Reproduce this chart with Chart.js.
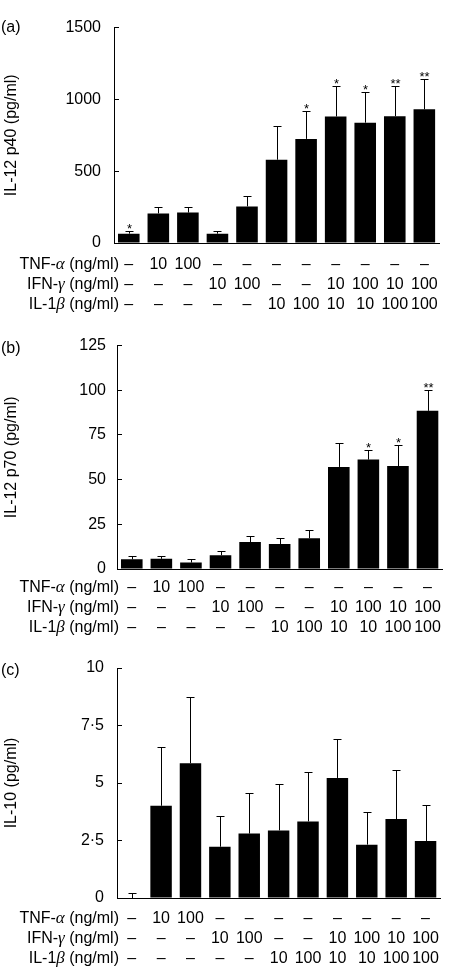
<!DOCTYPE html>
<html>
<head>
<meta charset="utf-8">
<title>IL-12 p40, IL-12 p70 and IL-10</title>
<script src="https://cdn.jsdelivr.net/npm/chart.js@4.4.0/dist/chart.umd.min.js"></script>
<style>
    html, body { margin: 0; padding: 0; background: #fff; }
    #wrap { position: relative; width: 450px; height: 974px; }
    canvas { position: absolute; left: 0; }
</style>
</head>
<body>
<div id="wrap">
    <canvas id="chartA" width="450" height="320" style="top:0px"></canvas>
    <canvas id="chartB" width="450" height="320" style="top:320px"></canvas>
    <canvas id="chartC" width="450" height="334" style="top:640px"></canvas>
</div>
<script>
    // stimulation table under each panel
    var tnfRow = ['–', '10', '100', '–', '–', '–', '–', '–', '–', '–', '–'];
    var ifnRow = ['–', '–', '–', '10', '100', '–', '–', '10', '100', '10', '100'];
    var il1Row = ['–', '–', '–', '–', '–', '10', '100', '10', '10', '100', '100'];
    var rowHeaders = [['TNF-', 'α', ' (ng/ml)'], ['IFN-', 'γ', ' (ng/ml)'], ['IL-1', 'β', ' (ng/ml)']];

    // (a) IL-12 p40
    var p40Values = [65, 206, 212, 65, 255, 580, 725, 881, 838, 883, 931];
    var p40Errors = [22, 43, 37, 22, 74, 232, 191, 214, 212, 212, 210];
    var p40Stars = ['*', '', '', '', '', '', '*', '*', '*', '**', '**'];
    var p40Ticks = [0, 500, 1000, 1500];

    // (b) IL-12 p70
    var p70Values = [5.4, 5.7, 3.6, 7.7, 15.1, 14.0, 17.2, 57.1, 61.2, 57.6, 88.5];
    var p70Errors = [1.8, 1.5, 2.1, 2.2, 3.4, 3.6, 4.7, 13.3, 5.6, 11.9, 11.5];
    var p70Stars = ['', '', '', '', '', '', '', '', '*', '*', '**'];
    var p70Ticks = [0, 25, 50, 75, 100, 125];

    // (c) IL-10
    var il10Values = [0, 4.01, 5.86, 2.23, 2.80, 2.94, 3.33, 5.22, 2.32, 3.43, 2.48];
    var il10Errors = [0.2, 2.56, 2.89, 1.35, 1.75, 2.00, 2.13, 1.69, 1.43, 2.15, 1.58];
    var il10Stars = ['', '', '', '', '', '', '', '', '', '', ''];
    var il10Ticks = [0, 2.5, 5, 7.5, 10];

    Chart.defaults.font.family = '"Liberation Sans", Arial, sans-serif';
    Chart.defaults.color = '#000';

    var panelExtras = {
        id: 'panelExtras',
        afterDatasetsDraw: function (chart) {
            var ds = chart.data.datasets[0];
            var yScale = chart.scales.y;
            var bars = chart.getDatasetMeta(0).data;
            var ctx = chart.ctx;
            ctx.save();
            ctx.strokeStyle = '#000';
            ctx.lineWidth = 1;
            ctx.fillStyle = '#000';
            ctx.font = '13px "Liberation Sans", Arial, sans-serif';
            ctx.textAlign = 'center';
            ctx.textBaseline = 'alphabetic';
            for (var i = 0; i < bars.length; i++) {
                var x = Math.round(bars[i].x) + 0.5;
                var top = Math.round(yScale.getPixelForValue(ds.data[i] + ds.errors[i])) + 0.5;
                ctx.beginPath();
                ctx.moveTo(x, bars[i].y);
                ctx.lineTo(x, top);
                ctx.moveTo(x - 4, top);
                ctx.lineTo(x + 4, top);
                ctx.stroke();
                if (ds.stars[i]) {
                    ctx.fillText(ds.stars[i], x, top + 1);
                }
            }
            ctx.restore();
        },
        afterDraw: function (chart, args, opts) {
            var ctx = chart.ctx;
            var xScale = chart.scales.x;
            ctx.save();
            ctx.fillStyle = '#000';
            ctx.textBaseline = 'middle';
            ctx.textAlign = 'left';
            ctx.font = '16px "Liberation Sans", Arial, sans-serif';
            ctx.fillText(opts.letter, 1, chart.chartArea.top + opts.letterDy);

            var plain = '16px "Liberation Sans", Arial, sans-serif';
            var greek = 'italic 17px "Liberation Serif", "Times New Roman", serif';
            for (var r = 0; r < rowHeaders.length; r++) {
                var parts = rowHeaders[r];
                var fonts = [plain, greek, plain];
                var widths = parts.map(function (p, k) {
                    ctx.font = fonts[k];
                    return ctx.measureText(p).width;
                });
                var x = 119 - widths[0] - widths[1] - widths[2];
                var y = xScale.top + xScale.options.ticks.padding + 20 * (r + 0.5);
                for (var k = 0; k < parts.length; k++) {
                    ctx.font = fonts[k];
                    ctx.fillText(parts[k], x, y);
                    x += widths[k];
                }
            }
            ctx.restore();
        }
    };

    function makePanel(id, cfg) {
        var labels = tnfRow.map(function (t, i) {
            return [t, ifnRow[i], il1Row[i]];
        });
        return new Chart(document.getElementById(id), {
            type: 'bar',
            data: {
                labels: labels,
                datasets: [{
                    data: cfg.values,
                    errors: cfg.errors,
                    stars: cfg.stars,
                    backgroundColor: '#000',
                    borderWidth: 0,
                    barPercentage: 0.73,
                    categoryPercentage: 1
                }]
            },
            options: {
                responsive: false,
                animation: false,
                layout: {padding: {left: 0, top: cfg.top, right: cfg.right, bottom: 0}},
                plugins: {
                    legend: {display: false},
                    tooltip: {enabled: false},
                    panelExtras: {letter: cfg.letter, letterDy: cfg.letterDy}
                },
                scales: {
                    x: {
                        grid: {display: false, drawTicks: false},
                        border: {display: true, color: '#000', width: 1},
                        ticks: {
                            autoSkip: false,
                            maxRotation: 0,
                            padding: cfg.xPad,
                            color: '#000',
                            font: {size: 16, lineHeight: '20px'}
                        },
                        afterFit: function (scale) {
                            scale.height = cfg.xHeight;
                        }
                    },
                    y: {
                        min: 0,
                        max: cfg.ticks[cfg.ticks.length - 1],
                        afterBuildTicks: function (scale) {
                            scale.ticks = cfg.ticks.map(function (v) {
                                return {value: v};
                            });
                        },
                        grid: {drawOnChartArea: false, drawTicks: true, tickLength: -5, color: '#000'},
                        border: {display: true, color: '#000', width: 1},
                        ticks: {
                            padding: cfg.yPad,
                            color: '#000',
                            font: {size: 16},
                            callback: function (v) {
                                return String(v).replace('.', '·');
                            }
                        },
                        title: {
                            display: true,
                            text: cfg.title,
                            color: '#000',
                            font: {size: 16},
                            padding: {top: 2, bottom: 0}
                        },
                        afterFit: function (scale) {
                            scale.width = cfg.yWidth;
                        }
                    }
                }
            },
            plugins: [panelExtras]
        });
    }

    makePanel('chartA', {
        values: p40Values, errors: p40Errors, stars: p40Stars, ticks: p40Ticks,
        title: 'IL-12 p40 (pg/ml)', letter: '(a)', letterDy: 0,
        top: 12, right: 7, yWidth: 114, xHeight: 77, xPad: 12, yPad: 18
    });

    makePanel('chartB', {
        values: p70Values, errors: p70Errors, stars: p70Stars, ticks: p70Ticks,
        title: 'IL-12 p70 (pg/ml)', letter: '(b)', letterDy: 3,
        top: 17, right: 3, yWidth: 117, xHeight: 71, xPad: 9, yPad: 16
    });

    makePanel('chartC', {
        values: il10Values, errors: il10Errors, stars: il10Stars, ticks: il10Ticks,
        title: 'IL-10 (pg/ml)', letter: '(c)', letterDy: 3,
        top: 28, right: 2, yWidth: 117, xHeight: 76, xPad: 11, yPad: 18
    });
</script>
</body>
</html>
